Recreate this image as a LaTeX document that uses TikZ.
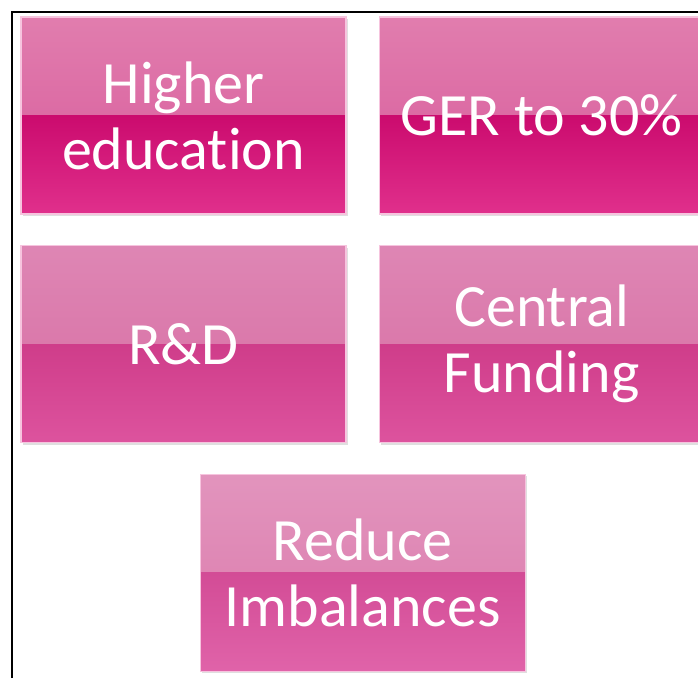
\documentclass[tikz,border=0pt]{standalone}
\usepackage{fontspec}
\newfontfamily\boxfont[Ligatures=NoCommon]{Carlito}
\usepackage{tikz}
\usetikzlibrary{positioning,shadows,calc}
\definecolor{rowAa}{RGB}{225,125,174}
\definecolor{rowAb}{RGB}{215,89,154}
\definecolor{rowAc}{RGB}{203,11,110}
\definecolor{rowAd}{RGB}{224,48,140}
\definecolor{rowBa}{RGB}{222,134,180}
\definecolor{rowBb}{RGB}{215,108,162}
\definecolor{rowBc}{RGB}{207,61,138}
\definecolor{rowBd}{RGB}{221,83,158}
\definecolor{rowCa}{RGB}{226,148,189}
\definecolor{rowCb}{RGB}{219,121,171}
\definecolor{rowCc}{RGB}{211,76,150}
\definecolor{rowCd}{RGB}{224,99,169}
\definecolor{rimpink}{RGB}{246,196,222}
\tikzset{
  pinkbox/.style n args = {4}{rectangle, inner sep=0pt, align=center,
    minimum width=325pt, minimum height=197pt, text=white,
    font=\boxfont\fontsize{60}{66}\selectfont,
    draw=rimpink, line width=1.2pt,
    drop shadow={opacity=0.25, shadow xshift=1.5pt, shadow yshift=-2pt},
    path picture={
      \fill[top color=#1, bottom color=#2]
        (path picture bounding box.north west) rectangle
        (path picture bounding box.east);
      \fill[top color=#3, bottom color=#4]
        (path picture bounding box.west) rectangle
        (path picture bounding box.south east);
    }},% glossy box, two halves
  row_a/.style = {pinkbox={rowAa}{rowAb}{rowAc}{rowAd}},
  row_b/.style = {pinkbox={rowBa}{rowBb}{rowBc}{rowBd}},
  row_c/.style = {pinkbox={rowCa}{rowCb}{rowCc}{rowCd}}
}

\begin{document}
\begin{tikzpicture}
\useasboundingbox (0,0) rectangle (698pt,678pt);
\clip (0,0) rectangle (698pt,678pt);
\coordinate (frame_bl) at (12pt,0pt);
\coordinate (frame_tl) at (12pt,666pt);
\coordinate (frame_tr) at (698pt,666pt);
\draw [line width=2.5pt] (frame_bl) -- (frame_tl) -- (frame_tr);

\node [row_a] (higher) at (183.5pt,562.5pt) {Higher\\education};
\node [row_a, right=32pt of higher] (ger) {GER to 30\%};
\node [row_b, below=30.5pt of higher] (rnd) {R\&D};
\node [row_b, below=30.5pt of ger] (funding) {Central\\Funding};
\coordinate (midcol) at ($(rnd.south)!0.5!(funding.south)$);
\node [row_c, below=30.5pt of midcol] (reduce) {Reduce\\Imbalances};
\end{tikzpicture}
\end{document}
